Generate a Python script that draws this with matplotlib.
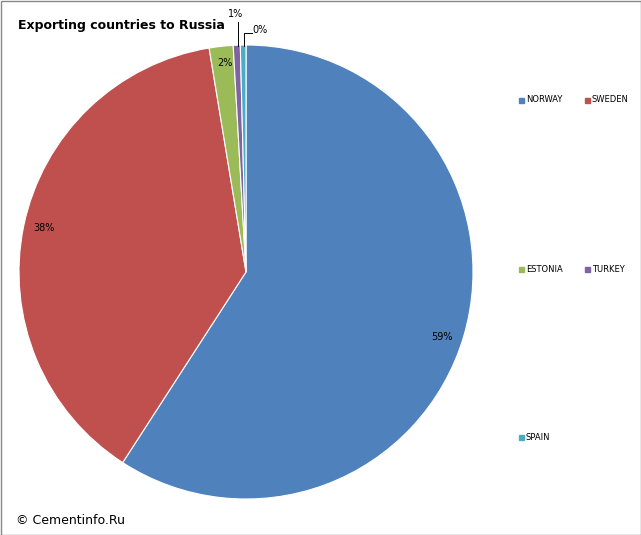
import matplotlib
matplotlib.use("Agg")
import matplotlib.pyplot as plt
from matplotlib.patches import Rectangle

countries = ["NORWAY", "SWEDEN", "ESTONIA", "TURKEY", "SPAIN"]
values = [59.2, 38.3, 1.7, 0.5, 0.4]
labels = ["59%", "38%", "2%", "1%", "0%"]
colors = ["#4F81BD", "#C0504D", "#9BBB59", "#8064A2", "#4BACC6"]

W, H = 641, 535
fig = plt.figure(figsize=(W/100, H/100), dpi=100)
fig.patches.append(Rectangle((0.5/W, 0.5/H), 1-1/W, 1-1/H, transform=fig.transFigure,
                             fill=False, edgecolor="#888888", lw=1))
cx, cy, r = 246, 272, 227
ax = fig.add_axes([(cx-r)/W, (H-cy-r)/H, 2*r/W, 2*r/H])
ax.pie(values, colors=colors, startangle=90, counterclock=False,
       wedgeprops=dict(edgecolor="white", linewidth=0.8))
ax.set_xlim(-1, 1); ax.set_ylim(-1, 1)
ax.set_aspect("equal")

def d(px, py):
    return ((px-cx)/r, (cy-py)/r)

pos = [(442, 337), (44, 228), (225, 63), (236, 14), (260, 30)]
for lab, p in zip(labels, pos):
    x, y = d(*p)
    ax.text(x, y, lab, ha="center", va="center", fontsize=7, clip_on=False)
for seg in [[(238, 22), (238, 46)], [(252, 33), (244, 33), (244, 46)]]:
    xs, ys = zip(*[d(*q) for q in seg])
    ax.plot(xs, ys, color="black", lw=0.7, clip_on=False)

fig.text(18/W, 1-26/H, "Exporting countries to Russia", fontsize=9, fontweight="bold",
         ha="left", va="center")
fig.text(16/W, 1-521/H, "© Cementinfo.Ru", fontsize=9, ha="left", va="center")

legpos = [(523, 100), (589, 100), (523, 269), (589, 269), (523, 437)]
for name, col, (px, py) in zip(countries, colors, legpos):
    fig.patches.append(Rectangle(((px-4)/W, (H-py-2.5)/H), 5/W, 5/H,
                                 transform=fig.transFigure, color=col))
    fig.text((px+3)/W, 1-py/H, name, fontsize=6, ha="left", va="center")

fig.savefig("out.png", dpi=100)
